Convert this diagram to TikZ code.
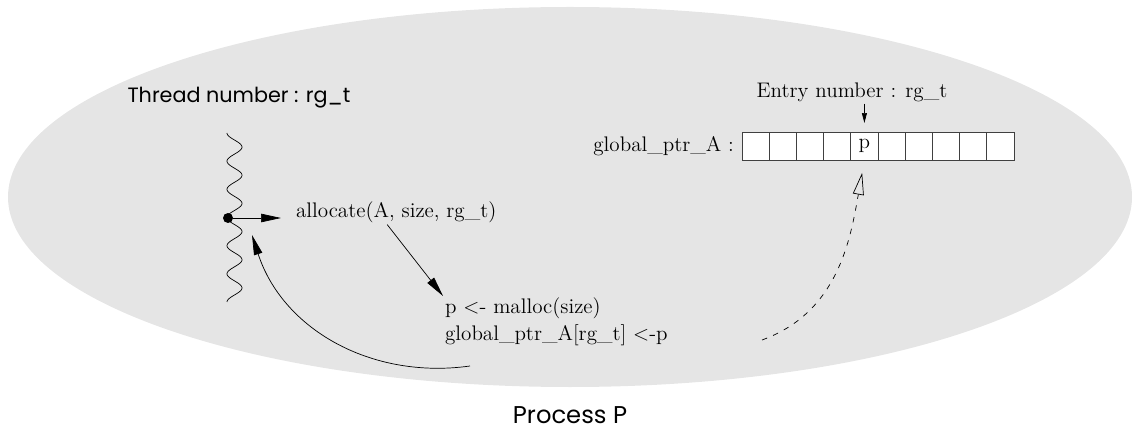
\documentclass[tikz,border=0pt]{standalone}
\usepackage{fontspec}
\newfontfamily\procfont{Poppins}
\usepackage{tikz}
\usetikzlibrary{arrows.meta,positioning}

\tikzset{
  code/.style={font=\fontsize{12}{15}\selectfont, inner sep=1pt},
  sanslabel/.style={font=\procfont\fontsize{#1}{16}\selectfont, inner sep=1pt},
  sanslabel/.default=12,
  cell/.style={draw=black!75, fill=white, minimum width=0.544cm, minimum height=0.56cm, inner sep=0pt, outer sep=0pt},
  blackhead/.style={-{Triangle[length=0.4cm,width=0.17cm]}},
}

\begin{document}
\begin{tikzpicture}[x=0.02cm,y=0.02cm]
  \useasboundingbox (0,0) rectangle (1132,433);
  \fill[black!10] (570,236) ellipse [x radius=562, y radius=190];

  % thread side
  \node[sanslabel=11.8] (thread) at (239,335) {Thread number : rg\_t};
  \draw plot[domain=0:169, samples=240, smooth] ({234.5-7.5*cos(12.78*\x)}, {300-\x});
  \node[circle, fill=black, inner sep=0pt, minimum size=0.2cm] (dot) at (228,215) {};
  \node[code, anchor=west] (alloc) at (294,221) {allocate(A, size, rg\_t)};
  \node[code, anchor=north west, align=left] (malloc) at (443,137) {p <- malloc(size)\\global\_ptr\_A[rg\_t] <-p};
  \coordinate (ret) at (470,67);
  \coordinate (back) at (252,198);
  \coordinate (done) at (762,93);

  % the array
  \foreach \i in {0,...,9}
    \node[cell] (cell\i) at ({755.6+27.2*\i},287) {};
  \node[code] (pval) at (cell4) {p};
  \node[code, left=0.12cm of cell0] (ptr) {global\_ptr\_A :};
  \node[code] (entry) at (852,341) {Entry number : rg\_t};

  \draw[blackhead] (dot) -- (dot -| alloc.west) [shorten >=0.26cm];
  \draw[blackhead] ([xshift=-0.18cm]alloc.south) -- (malloc.north west);
  \draw[blackhead, out=188, in=-72] (ret) to (back);
  \draw[-{Triangle[length=0.2cm,width=0.1cm]}, shorten >=0.18cm] (entry.south -| cell4.north) -- (cell4.north);
  \draw[dash pattern=on 0.11cm off 0.13cm, -{Triangle[open,length=0.44cm,width=0.22cm]}, shorten >=0.26cm, out=20, in=-100] (done) to (cell4.south);

  \node[sanslabel=13.8] (proc) at (570,18) {Process P};
\end{tikzpicture}
\end{document}
